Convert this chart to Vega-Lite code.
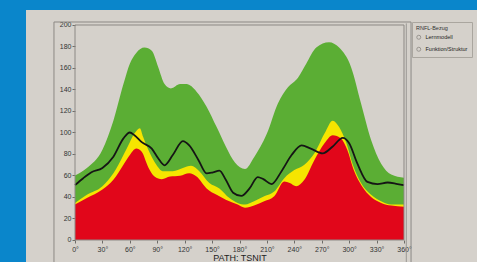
{
  "$schema": "https://vega.github.io/schema/vega-lite/v6.json",
  "width": 451,
  "height": 252,
  "autosize": {"type": "none"},
  "padding": {"left": 26, "top": 10, "right": 0, "bottom": 0},
  "background": "#0a86cb",
  "config": {
    "view": {"fill": "#d5d1cb", "stroke": null},
    "font": "Liberation Sans"
  },
  "datasets": {
    "green": [
      {"angle": 0, "v": 60}, {"angle": 13, "v": 67}, {"angle": 30, "v": 84}, {"angle": 42, "v": 111},
      {"angle": 53, "v": 145}, {"angle": 60, "v": 164}, {"angle": 67, "v": 174}, {"angle": 76, "v": 179},
      {"angle": 84, "v": 176}, {"angle": 91, "v": 161}, {"angle": 98, "v": 145}, {"angle": 105, "v": 141},
      {"angle": 115, "v": 145}, {"angle": 122, "v": 145}, {"angle": 133, "v": 138}, {"angle": 144, "v": 124},
      {"angle": 155, "v": 105}, {"angle": 165, "v": 87}, {"angle": 175, "v": 72}, {"angle": 186, "v": 66},
      {"angle": 196, "v": 77}, {"angle": 210, "v": 99}, {"angle": 222, "v": 127}, {"angle": 233, "v": 142},
      {"angle": 244, "v": 151}, {"angle": 253, "v": 164}, {"angle": 264, "v": 179}, {"angle": 278, "v": 184},
      {"angle": 289, "v": 179}, {"angle": 302, "v": 161}, {"angle": 313, "v": 127}, {"angle": 324, "v": 93},
      {"angle": 335, "v": 71}, {"angle": 346, "v": 61}, {"angle": 360, "v": 58}
    ],
    "yellow": [
      {"angle": 0, "v": 34.5}, {"angle": 13, "v": 42}, {"angle": 30, "v": 50}, {"angle": 42, "v": 62},
      {"angle": 53, "v": 79}, {"angle": 60, "v": 91}, {"angle": 65, "v": 99}, {"angle": 71, "v": 104},
      {"angle": 74.5, "v": 96}, {"angle": 82, "v": 80.6}, {"angle": 89, "v": 70}, {"angle": 96, "v": 64},
      {"angle": 107, "v": 64}, {"angle": 118, "v": 67}, {"angle": 127, "v": 69}, {"angle": 136, "v": 64},
      {"angle": 147, "v": 53}, {"angle": 158, "v": 48}, {"angle": 169, "v": 39}, {"angle": 178, "v": 34.5},
      {"angle": 186, "v": 33}, {"angle": 196, "v": 36}, {"angle": 207, "v": 40.6}, {"angle": 218, "v": 45},
      {"angle": 229, "v": 57.5}, {"angle": 240, "v": 65}, {"angle": 251, "v": 70}, {"angle": 262, "v": 80.6},
      {"angle": 273, "v": 99}, {"angle": 282, "v": 111}, {"angle": 289, "v": 105}, {"angle": 297, "v": 90},
      {"angle": 304, "v": 70}, {"angle": 313, "v": 53}, {"angle": 324, "v": 42}, {"angle": 335, "v": 36},
      {"angle": 346, "v": 33}, {"angle": 360, "v": 33}
    ],
    "red": [
      {"angle": 0, "v": 33}, {"angle": 13, "v": 39}, {"angle": 30, "v": 47}, {"angle": 42, "v": 56},
      {"angle": 53, "v": 70}, {"angle": 60, "v": 79}, {"angle": 67, "v": 85}, {"angle": 73, "v": 82},
      {"angle": 80, "v": 68}, {"angle": 87, "v": 59}, {"angle": 95, "v": 56.6}, {"angle": 104, "v": 59},
      {"angle": 115, "v": 59.7}, {"angle": 125, "v": 62}, {"angle": 133, "v": 59}, {"angle": 144, "v": 48},
      {"angle": 155, "v": 42}, {"angle": 165, "v": 37.5}, {"angle": 178, "v": 33}, {"angle": 186, "v": 30},
      {"angle": 196, "v": 32}, {"angle": 207, "v": 36}, {"angle": 218, "v": 40.6}, {"angle": 229, "v": 54.5},
      {"angle": 235, "v": 53}, {"angle": 242, "v": 50}, {"angle": 251, "v": 56}, {"angle": 262, "v": 74.5},
      {"angle": 273, "v": 90}, {"angle": 282, "v": 97.5}, {"angle": 291, "v": 94.5}, {"angle": 298, "v": 83.7},
      {"angle": 305, "v": 65}, {"angle": 314, "v": 50}, {"angle": 324, "v": 40}, {"angle": 335, "v": 34.5},
      {"angle": 346, "v": 32}, {"angle": 360, "v": 31}
    ],
    "tsnit": [
      {"angle": 0, "v": 51}, {"angle": 9, "v": 57.5}, {"angle": 18, "v": 63}, {"angle": 30, "v": 67},
      {"angle": 42, "v": 77.5}, {"angle": 53, "v": 94.5}, {"angle": 60, "v": 100}, {"angle": 65, "v": 97.5},
      {"angle": 73, "v": 91}, {"angle": 84, "v": 85}, {"angle": 91, "v": 76}, {"angle": 98, "v": 69.5},
      {"angle": 107, "v": 79}, {"angle": 118, "v": 92}, {"angle": 125, "v": 88}, {"angle": 135, "v": 74.5},
      {"angle": 144, "v": 62}, {"angle": 151, "v": 63}, {"angle": 158, "v": 64.5}, {"angle": 165, "v": 56},
      {"angle": 173, "v": 44}, {"angle": 182, "v": 41}, {"angle": 191, "v": 48}, {"angle": 200, "v": 58.5},
      {"angle": 206, "v": 56.6}, {"angle": 215, "v": 52}, {"angle": 226, "v": 64}, {"angle": 237, "v": 79},
      {"angle": 248, "v": 88}, {"angle": 258, "v": 85}, {"angle": 271, "v": 80.6}, {"angle": 282, "v": 87},
      {"angle": 293, "v": 95}, {"angle": 300, "v": 90}, {"angle": 309, "v": 71}, {"angle": 320, "v": 54},
      {"angle": 331, "v": 52}, {"angle": 342, "v": 53.5}, {"angle": 353, "v": 52}, {"angle": 360, "v": 51}
    ],
    "modes": [
      {"m": "Lernmodell"}, {"m": "Funktion/Struktur"}
    ],
    "one": [{"k": 1}]
  },
  "layer": [
    {
      "data": {"name": "green"},
      "mark": {"type": "area", "color": "#5bae34", "interpolate": "monotone"},
      "encoding": {
        "x": {
          "field": "angle", "type": "quantitative",
          "scale": {"domain": [-53.62, 439.88], "nice": false, "zero": false},
          "axis": {"orient": "bottom", "offset": -22, "values": [0, 30, 60, 90, 120, 150, 180, 210, 240, 270, 300, 330, 360], "labelExpr": "datum.value + '°'", "domain": false, "grid": false, "tickColor": "#6e6c68", "tickSize": 3, "labelFontSize": 7, "labelColor": "#333333", "labelPadding": 2, "labelFlush": false, "labelOverlap": false, "title": "PATH: TSNIT", "titleFontSize": 9, "titleFontWeight": "normal", "titleColor": "#222222", "titleX": 213.5, "titlePadding": 1}
        },
        "y": {
          "field": "v", "type": "quantitative",
          "scale": {"domain": [-20.47, 213.95], "nice": false, "zero": false},
          "axis": {"orient": "left", "offset": -49, "values": [0, 20, 40, 60, 80, 100, 120, 140, 160, 180, 200], "domain": false, "grid": false, "tickColor": "#6e6c68", "tickSize": 3, "labelFontSize": 7, "labelColor": "#333333", "labelPadding": 1, "labelOverlap": false, "title": null}
        },
        "y2": {"datum": 0}
      }
    },
    {
      "data": {"name": "yellow"},
      "mark": {"type": "area", "color": "#f6e500", "interpolate": "monotone"},
      "encoding": {
        "x": {
          "field": "angle", "type": "quantitative",
          "scale": {"domain": [-53.62, 439.88], "nice": false, "zero": false},
          "axis": {"orient": "bottom", "offset": -22, "values": [0, 30, 60, 90, 120, 150, 180, 210, 240, 270, 300, 330, 360], "labelExpr": "datum.value + '°'", "domain": false, "grid": false, "tickColor": "#6e6c68", "tickSize": 3, "labelFontSize": 7, "labelColor": "#333333", "labelPadding": 2, "labelFlush": false, "labelOverlap": false, "title": "PATH: TSNIT", "titleFontSize": 9, "titleFontWeight": "normal", "titleColor": "#222222", "titleX": 213.5, "titlePadding": 1}
        },
        "y": {
          "field": "v", "type": "quantitative",
          "scale": {"domain": [-20.47, 213.95], "nice": false, "zero": false},
          "axis": {"orient": "left", "offset": -49, "values": [0, 20, 40, 60, 80, 100, 120, 140, 160, 180, 200], "domain": false, "grid": false, "tickColor": "#6e6c68", "tickSize": 3, "labelFontSize": 7, "labelColor": "#333333", "labelPadding": 1, "labelOverlap": false, "title": null}
        },
        "y2": {"datum": 0}
      }
    },
    {
      "data": {"name": "red"},
      "mark": {"type": "area", "color": "#e1061a", "interpolate": "monotone"},
      "encoding": {
        "x": {
          "field": "angle", "type": "quantitative",
          "scale": {"domain": [-53.62, 439.88], "nice": false, "zero": false},
          "axis": {"orient": "bottom", "offset": -22, "values": [0, 30, 60, 90, 120, 150, 180, 210, 240, 270, 300, 330, 360], "labelExpr": "datum.value + '°'", "domain": false, "grid": false, "tickColor": "#6e6c68", "tickSize": 3, "labelFontSize": 7, "labelColor": "#333333", "labelPadding": 2, "labelFlush": false, "labelOverlap": false, "title": "PATH: TSNIT", "titleFontSize": 9, "titleFontWeight": "normal", "titleColor": "#222222", "titleX": 213.5, "titlePadding": 1}
        },
        "y": {
          "field": "v", "type": "quantitative",
          "scale": {"domain": [-20.47, 213.95], "nice": false, "zero": false},
          "axis": {"orient": "left", "offset": -49, "values": [0, 20, 40, 60, 80, 100, 120, 140, 160, 180, 200], "domain": false, "grid": false, "tickColor": "#6e6c68", "tickSize": 3, "labelFontSize": 7, "labelColor": "#333333", "labelPadding": 1, "labelOverlap": false, "title": null}
        },
        "y2": {"datum": 0}
      }
    },
    {
      "data": {"name": "tsnit"},
      "mark": {"type": "line", "color": "#151515", "strokeWidth": 1.8, "interpolate": "monotone"},
      "encoding": {
        "x": {
          "field": "angle", "type": "quantitative",
          "scale": {"domain": [-53.62, 439.88], "nice": false, "zero": false},
          "axis": {"orient": "bottom", "offset": -22, "values": [0, 30, 60, 90, 120, 150, 180, 210, 240, 270, 300, 330, 360], "labelExpr": "datum.value + '°'", "domain": false, "grid": false, "tickColor": "#6e6c68", "tickSize": 3, "labelFontSize": 7, "labelColor": "#333333", "labelPadding": 2, "labelFlush": false, "labelOverlap": false, "title": "PATH: TSNIT", "titleFontSize": 9, "titleFontWeight": "normal", "titleColor": "#222222", "titleX": 213.5, "titlePadding": 1}
        },
        "y": {
          "field": "v", "type": "quantitative",
          "scale": {"domain": [-20.47, 213.95], "nice": false, "zero": false},
          "axis": {"orient": "left", "offset": -49, "values": [0, 20, 40, 60, 80, 100, 120, 140, 160, 180, 200], "domain": false, "grid": false, "tickColor": "#6e6c68", "tickSize": 3, "labelFontSize": 7, "labelColor": "#333333", "labelPadding": 1, "labelOverlap": false, "title": null}
        }
      }
    },
    {
      "data": {"name": "one"},
      "mark": {"type": "rect", "filled": false, "color": "#8c8985", "strokeWidth": 1},
      "encoding": {
        "x": {
          "datum": 0, "type": "quantitative",
          "scale": {"domain": [-53.62, 439.88], "nice": false, "zero": false},
          "axis": {"orient": "bottom", "offset": -22, "values": [0, 30, 60, 90, 120, 150, 180, 210, 240, 270, 300, 330, 360], "labelExpr": "datum.value + '°'", "domain": false, "grid": false, "tickColor": "#6e6c68", "tickSize": 3, "labelFontSize": 7, "labelColor": "#333333", "labelPadding": 2, "labelFlush": false, "labelOverlap": false, "title": "PATH: TSNIT", "titleFontSize": 9, "titleFontWeight": "normal", "titleColor": "#222222", "titleX": 213.5, "titlePadding": 1}
        },
        "x2": {"datum": 360},
        "y": {
          "datum": 0, "type": "quantitative",
          "scale": {"domain": [-20.47, 213.95], "nice": false, "zero": false},
          "axis": {"orient": "left", "offset": -49, "values": [0, 20, 40, 60, 80, 100, 120, 140, 160, 180, 200], "domain": false, "grid": false, "tickColor": "#6e6c68", "tickSize": 3, "labelFontSize": 7, "labelColor": "#333333", "labelPadding": 1, "labelOverlap": false, "title": null}
        },
        "y2": {"datum": 200}
      }
    },
    {
      "data": {"name": "one"},
      "mark": {"type": "rect", "filled": false, "color": "#8c8985", "strokeWidth": 1},
      "encoding": {
        "x": {
          "datum": -23, "type": "quantitative",
          "scale": {"domain": [-53.62, 439.88], "nice": false, "zero": false},
          "axis": {"orient": "bottom", "offset": -22, "values": [0, 30, 60, 90, 120, 150, 180, 210, 240, 270, 300, 330, 360], "labelExpr": "datum.value + '°'", "domain": false, "grid": false, "tickColor": "#6e6c68", "tickSize": 3, "labelFontSize": 7, "labelColor": "#333333", "labelPadding": 2, "labelFlush": false, "labelOverlap": false, "title": "PATH: TSNIT", "titleFontSize": 9, "titleFontWeight": "normal", "titleColor": "#222222", "titleX": 213.5, "titlePadding": 1}
        },
        "x2": {"datum": 367.7},
        "y": {
          "datum": -25, "type": "quantitative",
          "scale": {"domain": [-20.47, 213.95], "nice": false, "zero": false},
          "axis": {"orient": "left", "offset": -49, "values": [0, 20, 40, 60, 80, 100, 120, 140, 160, 180, 200], "domain": false, "grid": false, "tickColor": "#6e6c68", "tickSize": 3, "labelFontSize": 7, "labelColor": "#333333", "labelPadding": 1, "labelOverlap": false, "title": null}
        },
        "y2": {"datum": 202.8}
      }
    },
    {
      "data": {"name": "one"},
      "mark": {"type": "rule", "color": "#9a9793", "strokeWidth": 1},
      "encoding": {
        "x": {
          "datum": 362.5, "type": "quantitative",
          "scale": {"domain": [-53.62, 439.88], "nice": false, "zero": false},
          "axis": {"orient": "bottom", "offset": -22, "values": [0, 30, 60, 90, 120, 150, 180, 210, 240, 270, 300, 330, 360], "labelExpr": "datum.value + '°'", "domain": false, "grid": false, "tickColor": "#6e6c68", "tickSize": 3, "labelFontSize": 7, "labelColor": "#333333", "labelPadding": 2, "labelFlush": false, "labelOverlap": false, "title": "PATH: TSNIT", "titleFontSize": 9, "titleFontWeight": "normal", "titleColor": "#222222", "titleX": 213.5, "titlePadding": 1}
        },
        "y": {
          "datum": -25, "type": "quantitative",
          "scale": {"domain": [-20.47, 213.95], "nice": false, "zero": false},
          "axis": {"orient": "left", "offset": -49, "values": [0, 20, 40, 60, 80, 100, 120, 140, 160, 180, 200], "domain": false, "grid": false, "tickColor": "#6e6c68", "tickSize": 3, "labelFontSize": 7, "labelColor": "#333333", "labelPadding": 1, "labelOverlap": false, "title": null}
        },
        "y2": {"datum": 201.5}
      }
    },
    {
      "data": {"name": "modes"},
      "mark": {"type": "point", "opacity": 0},
      "encoding": {
        "x": {
          "datum": 180, "type": "quantitative",
          "scale": {"domain": [-53.62, 439.88], "nice": false, "zero": false},
          "axis": {"orient": "bottom", "offset": -22, "values": [0, 30, 60, 90, 120, 150, 180, 210, 240, 270, 300, 330, 360], "labelExpr": "datum.value + '°'", "domain": false, "grid": false, "tickColor": "#6e6c68", "tickSize": 3, "labelFontSize": 7, "labelColor": "#333333", "labelPadding": 2, "labelFlush": false, "labelOverlap": false, "title": "PATH: TSNIT", "titleFontSize": 9, "titleFontWeight": "normal", "titleColor": "#222222", "titleX": 213.5, "titlePadding": 1}
        },
        "y": {
          "datum": 100, "type": "quantitative",
          "scale": {"domain": [-20.47, 213.95], "nice": false, "zero": false},
          "axis": {"orient": "left", "offset": -49, "values": [0, 20, 40, 60, 80, 100, 120, 140, 160, 180, 200], "domain": false, "grid": false, "tickColor": "#6e6c68", "tickSize": 3, "labelFontSize": 7, "labelColor": "#333333", "labelPadding": 1, "labelOverlap": false, "title": null}
        },
        "shape": {
          "field": "m",
          "type": "nominal",
          "scale": {"domain": ["Lernmodell", "Funktion/Struktur"], "range": ["circle", "circle"]},
          "legend": {
            "orient": "none",
            "legendX": 386,
            "legendY": 12,
            "title": "RNFL-Bezug",
            "titleFontSize": 5.5,
            "titleFontWeight": "normal",
            "titleColor": "#333333",
            "titlePadding": 3,
            "labelFontSize": 5.5,
            "labelColor": "#222222",
            "symbolSize": 16,
            "symbolFillColor": "#ffffff",
            "symbolStrokeColor": "#8a8782",
            "symbolStrokeWidth": 0.8,
            "symbolOpacity": 1,
            "rowPadding": 4,
            "padding": 4,
            "strokeColor": "#aaa69f"
          }
        }
      }
    }
  ]
}
